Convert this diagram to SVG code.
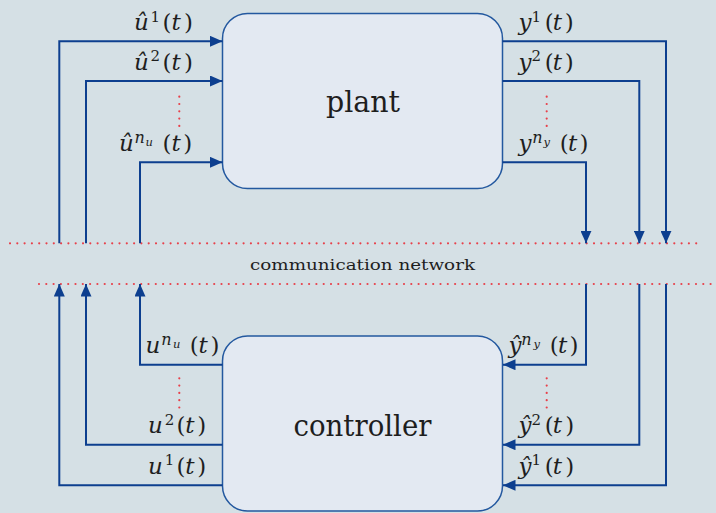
<svg xmlns="http://www.w3.org/2000/svg" width="716" height="513" viewBox="0 0 716 513">
<style>
.bg{fill:#d5e0e5}
.box{fill:#e3e9f2;stroke:#23589f;stroke-width:1.5}
.title{font-family:'DejaVu Serif','Liberation Serif',serif;font-size:30px;fill:#1e1e1e;text-anchor:middle}
.net{font-family:'DejaVu Serif','Liberation Serif',serif;font-size:15px;fill:#1e1e1e;text-anchor:middle}
.wire{fill:none;stroke:#0d3f8f;stroke-width:2;marker-end:url(#arr)}
.dots{fill:none;stroke:#e8404a;stroke-width:2.2;stroke-linecap:round;stroke-dasharray:0 7.3}
.lab{font-family:'DejaVu Serif','Liberation Serif',serif;font-size:23px;fill:#1e1e1e}
.i{font-style:italic}
.sup{font-size:15px}
.supi{font-size:16px;font-style:italic}
.sub{font-size:11.5px;font-style:italic}
</style>
<defs>
<marker id="arr" markerUnits="userSpaceOnUse" markerWidth="13" markerHeight="11" refX="12.5" refY="5.5" orient="auto">
<path d="M0,0 L12.5,5.5 L0,11 Z" fill="#0d3f8f"/>
</marker>
</defs>
<rect class="bg" x="0" y="0" width="716" height="513"/>

<g id="network">
<line class="dots" x1="10" y1="243.3" x2="700" y2="243.3"/>
<line class="dots" x1="39" y1="284" x2="716" y2="284"/>
<text class="net" x="362.5" y="269.5" textLength="225" lengthAdjust="spacingAndGlyphs">communication network</text>
</g>

<g id="plant">
<rect class="box" x="222.5" y="13.5" width="280" height="175" rx="25" ry="25"/>
<text class="title" x="363" y="112" textLength="74" lengthAdjust="spacingAndGlyphs">plant</text>
</g>

<g id="controller">
<rect class="box" x="222.5" y="336" width="280" height="175" rx="25" ry="25"/>
<text class="title" x="362.5" y="436" textLength="138" lengthAdjust="spacingAndGlyphs">controller</text>
</g>

<g id="connectors">
<path class="wire" d="M59.3,243.3 V41.3 H222.5"/>
<path class="wire" d="M86,243.3 V81 H222.5"/>
<path class="wire" d="M140,243.3 V162.3 H222.5"/>
<path class="wire" d="M502.5,41.3 H666 V243.3"/>
<path class="wire" d="M502.5,81 H639.3 V243.3"/>
<path class="wire" d="M502.5,162.3 H586 V243.3"/>
<path class="wire" d="M222.5,485.3 H59.3 V284"/>
<path class="wire" d="M222.5,444.7 H86 V284"/>
<path class="wire" d="M222.5,364.7 H140 V284"/>
<path class="wire" d="M586,284 V364.7 H503"/>
<path class="wire" d="M639.3,284 V444.7 H503"/>
<path class="wire" d="M666,284 V485.3 H503"/>
</g>

<g id="ellipsis">
<line class="dots" x1="179.3" y1="96.7" x2="179.3" y2="126.5"/>
<line class="dots" x1="546.7" y1="96.7" x2="546.7" y2="126.5"/>
<line class="dots" x1="179.3" y1="378.3" x2="179.3" y2="408.3"/>
<line class="dots" x1="546.7" y1="378.3" x2="546.7" y2="408.3"/>
</g>

<g id="labels">
<text class="lab"><tspan class="i" x="134" y="30.3">û</tspan><tspan class="sup" x="150.5" y="21.5">1</tspan><tspan x="162.5" y="30.3">(</tspan><tspan class="i" x="171.5" y="30.3">t</tspan><tspan x="184" y="30.3">)</tspan></text>
<text class="lab"><tspan class="i" x="134" y="70">û</tspan><tspan class="sup" x="150.5" y="61.2">2</tspan><tspan x="162.5" y="70">(</tspan><tspan class="i" x="171.5" y="70">t</tspan><tspan x="184" y="70">)</tspan></text>
<text class="lab"><tspan class="i" x="119" y="151.3">û</tspan><tspan class="supi" x="134.5" y="143">n</tspan><tspan class="sub" x="145.5" y="146">u</tspan><tspan x="162.5" y="151.3">(</tspan><tspan class="i" x="171.5" y="151.3">t</tspan><tspan x="183.3" y="151.3">)</tspan></text>

<text class="lab"><tspan class="i" x="518.5" y="30.3">y</tspan><tspan class="sup" x="531.5" y="21.5">1</tspan><tspan x="544.8" y="30.3">(</tspan><tspan class="i" x="552.8" y="30.3">t</tspan><tspan x="564.7" y="30.3">)</tspan></text>
<text class="lab"><tspan class="i" x="518.5" y="70">y</tspan><tspan class="sup" x="531.5" y="61.2">2</tspan><tspan x="544.8" y="70">(</tspan><tspan class="i" x="552.8" y="70">t</tspan><tspan x="564.7" y="70">)</tspan></text>
<text class="lab"><tspan class="i" x="518.5" y="151.3">y</tspan><tspan class="supi" x="532.3" y="143">n</tspan><tspan class="sub" x="543.5" y="146">y</tspan><tspan x="559.8" y="151.3">(</tspan><tspan class="i" x="568" y="151.3">t</tspan><tspan x="579.6" y="151.3">)</tspan></text>

<text class="lab"><tspan class="i" x="145.5" y="353">u</tspan><tspan class="supi" x="161.2" y="345">n</tspan><tspan class="sub" x="173" y="348">u</tspan><tspan x="189.8" y="353">(</tspan><tspan class="i" x="198.5" y="353">t</tspan><tspan x="210.6" y="353">)</tspan></text>
<text class="lab"><tspan class="i" x="148" y="433.3">u</tspan><tspan class="sup" x="164.8" y="424.5">2</tspan><tspan x="176.4" y="433.3">(</tspan><tspan class="i" x="185.3" y="433.3">t</tspan><tspan x="197.2" y="433.3">)</tspan></text>
<text class="lab"><tspan class="i" x="148" y="473.5">u</tspan><tspan class="sup" x="164.8" y="464.7">1</tspan><tspan x="176.4" y="473.5">(</tspan><tspan class="i" x="185.3" y="473.5">t</tspan><tspan x="197.2" y="473.5">)</tspan></text>

<text class="lab"><tspan class="i" x="508.5" y="353.3">ŷ</tspan><tspan class="supi" x="521.3" y="345">n</tspan><tspan class="sub" x="533.5" y="348">y</tspan><tspan x="549.8" y="353.3">(</tspan><tspan class="i" x="558" y="353.3">t</tspan><tspan x="569.6" y="353.3">)</tspan></text>
<text class="lab"><tspan class="i" x="518.5" y="433">ŷ</tspan><tspan class="sup" x="531.5" y="424.5">2</tspan><tspan x="544.8" y="433">(</tspan><tspan class="i" x="552.8" y="433">t</tspan><tspan x="565.2" y="433">)</tspan></text>
<text class="lab"><tspan class="i" x="518.5" y="473.5">ŷ</tspan><tspan class="sup" x="531.5" y="464.7">1</tspan><tspan x="544.8" y="473.5">(</tspan><tspan class="i" x="552.8" y="473.5">t</tspan><tspan x="565.2" y="473.5">)</tspan></text>
</g>
</svg>
